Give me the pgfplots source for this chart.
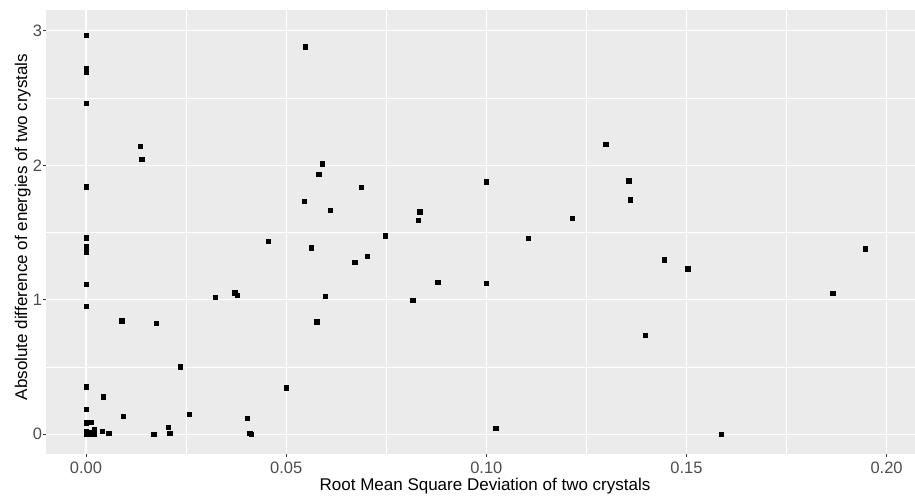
\documentclass[border=0pt]{standalone}
\usepackage{fontspec}
\setmainfont{Liberation Sans}
\usepackage{pgfplots}
\pgfplotsset{compat=1.18}
\definecolor{panelgrey}{HTML}{EBEBEB}
\definecolor{ticktext}{HTML}{4D4D4D}
\definecolor{tickmark}{HTML}{333333}
\begin{document}
\begin{tikzpicture}
\useasboundingbox (0,0) rectangle (915pt,495pt);
\begin{axis}[
    at={(46pt,41pt)}, anchor=south west,
    scale only axis,
    width=869pt, height=444pt,
    xmin=-0.0100, xmax=0.2071,
    ymin=-0.1465, ymax=3.1547,
    axis background/.style={fill=panelgrey},
    axis line style={draw=none},
    xtick={0,0.05,0.10,0.15,0.20},
    ytick={0,1,2,3},
    minor xtick={0.025,0.075,0.125,0.175},
    minor ytick={0.5,1.5,2.5},
    grid=both,
    major grid style={white, line width=1.3pt},
    minor grid style={white, line width=0.6pt},
    tick align=outside,
    major tick length=2.7pt,
    minor tick length=0pt,
    tick style={tickmark, line width=0.9pt},
    xtick pos=bottom, ytick pos=left,
    /pgf/number format/assume math mode=true,
    xticklabel style={/pgf/number format/.cd, fixed, fixed zerofill, precision=2, /tikz/.cd,
        anchor=north, inner sep=0pt, yshift=-5pt, text=ticktext, font=\fontsize{16.5}{19}\selectfont},
    yticklabel style={anchor=east, inner sep=0pt, xshift=-1pt, text=ticktext, font=\fontsize{16.5}{19}\selectfont},
]
\addplot[only marks, mark=square*, mark size=2.2pt, black] table {
x y
0 2.967
0 2.720
0 2.705
0 2.690
0 2.460
0 1.840
0 1.462
0 1.395
0 1.378
0 1.358
0 1.117
0 0.954
0 0.354
0 0.186
0 0.086
0.0013 0.090
0 0.020
0 0.005
0.0005 0.000
0.0010 0.012
0.0015 0.002
0.0020 0.035
0.0020 0.000
0.0041 0.022
0.0057 0.010
0.0043 0.280
0.0093 0.136
0.0089 0.845
0.0135 2.141
0.0139 2.047
0.0169 0.000
0.0175 0.827
0.0206 0.054
0.0209 0.007
0.0236 0.503
0.0257 0.149
0.0322 1.021
0.0371 1.053
0.0377 1.033
0.0403 0.119
0.0409 0.010
0.0412 0.000
0.0455 1.437
0.0500 0.346
0.0545 1.732
0.0548 2.882
0.0562 1.387
0.0576 0.837
0.0581 1.935
0.0590 2.012
0.0598 1.028
0.0610 1.665
0.0671 1.279
0.0688 1.839
0.0703 1.326
0.0747 1.477
0.0816 0.998
0.0830 1.591
0.0834 1.655
0.0879 1.130
0.0999 1.125
0.1000 1.878
0.1023 0.047
0.1105 1.460
0.1215 1.608
0.1298 2.158
0.1356 1.886
0.1360 1.744
0.1397 0.738
0.1445 1.298
0.1503 1.231
0.1587 0.000
0.1865 1.048
0.1947 1.380
};
\end{axis}
\node[anchor=base, inner sep=0pt, font=\fontsize{17}{20}\selectfont] at (485pt,5pt)
    {Root Mean Square Deviation of two crystals};
\node[anchor=base, inner sep=0pt, rotate=90, font=\fontsize{17}{20}\selectfont] at (27pt,268pt)
    {Absolute difference of energies of two crystals};
\end{tikzpicture}
\end{document}
